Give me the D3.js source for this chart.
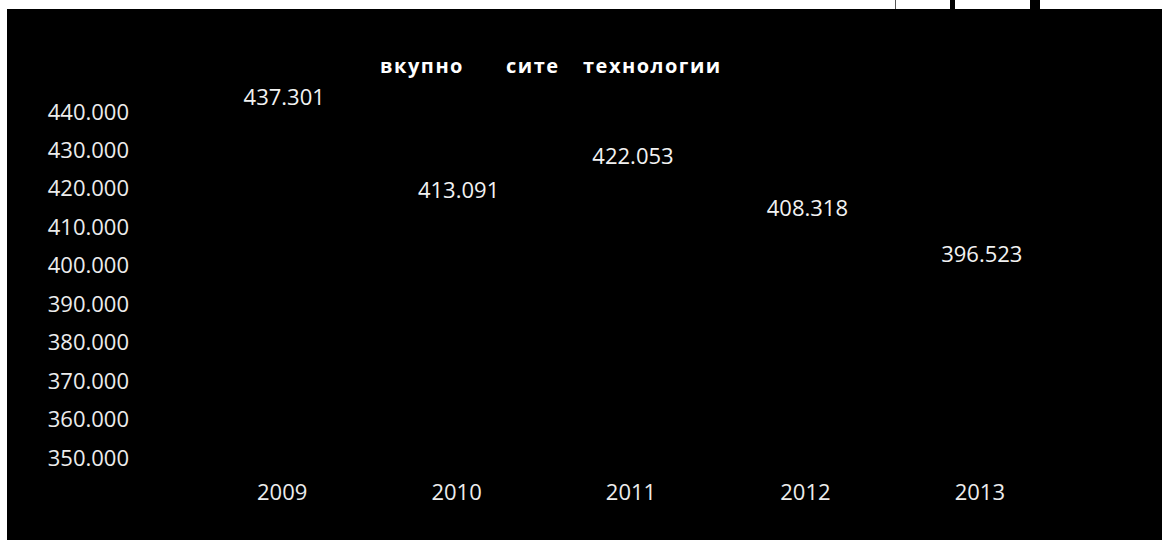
<!DOCTYPE html>
<html>
<head>
<meta charset="utf-8">
<script src="https://cdn.jsdelivr.net/npm/d3@7"></script>
<style>
  html, body { margin: 0; padding: 0; background: #fff; }
  svg { display: block; }
</style>
</head>
<body>
<svg id="chart" width="1162" height="540"></svg>
<script>
// Data: total of all technologies per year
const years = ["2009", "2010", "2011", "2012", "2013"];
const totals = [437301, 413091, 422053, 408318, 396523];
const yTicks = [350000, 360000, 370000, 380000, 390000, 400000, 410000, 420000, 430000, 440000];
const titleWords = ["вкупно", "сите", "технологии"];

const svg = d3.select("#chart");
const W = 1162, H = 540;
const font = "'Open Sans', 'Liberation Sans', sans-serif";

// Number format with "." as thousands separator
const fmt = d3.formatLocale({ decimal: ",", thousands: ".", grouping: [3], currency: ["", ""] }).format(",");

// Page frame: white margins, black chart area, small header boxes
svg.append("rect").attr("x", 0).attr("y", 0).attr("width", W).attr("height", H).attr("fill", "#fff");
svg.append("rect").attr("x", 7).attr("y", 9).attr("width", W - 7).attr("height", H - 9).attr("fill", "#000");
svg.append("line").attr("x1", 895.5).attr("x2", 895.5).attr("y1", 0).attr("y2", 9).attr("stroke", "#555").attr("stroke-width", 1);
svg.append("rect").attr("x", 950).attr("y", 0).attr("width", 5).attr("height", 9).attr("fill", "#000");
svg.append("rect").attr("x", 1030).attr("y", 0).attr("width", 10).attr("height", 9).attr("fill", "#000");

// Scales
const x = d3.scaleBand().domain(years).range([195, 1067]).paddingInner(0.4).paddingOuter(0.2);
const y = d3.scaleLinear().domain([350000, 440000]).range([458, 112]);

// Bars (same tone as the background)
svg.append("g").selectAll("rect")
  .data(totals)
  .join("rect")
  .attr("x", (d, i) => x(years[i]))
  .attr("width", x.bandwidth())
  .attr("y", d => y(d))
  .attr("height", d => y(350000) - y(d))
  .attr("fill", "#000");

// Y axis labels
const yAxis = d3.axisLeft(y).tickValues(yTicks).tickFormat(fmt).tickSize(0).tickPadding(0);
const gy = svg.append("g").attr("transform", "translate(129,0)").call(yAxis);
gy.select(".domain").remove();
gy.selectAll("text")
  .attr("font-family", font).attr("font-size", 22).attr("fill", "#ececec");

// X axis labels
const xAxis = d3.axisBottom(x).tickSize(0).tickPadding(0);
const gx = svg.append("g").attr("transform", "translate(0,484)").call(xAxis);
gx.select(".domain").remove();
gx.selectAll("text")
  .attr("font-family", font).attr("font-size", 22).attr("fill", "#ececec");

// Value labels above bars
svg.append("g").selectAll("text")
  .data(totals)
  .join("text")
  .attr("x", (d, i) => x(years[i]) + x.bandwidth() / 2 + 2)
  .attr("y", d => y(d) - 25)
  .attr("dy", "0.35em")
  .attr("text-anchor", "middle")
  .attr("font-family", font).attr("font-size", 22).attr("fill", "#f2f2f2")
  .text(d => fmt(d));

// Title
const titleX = [380, 506, 583];
const title = svg.append("text")
  .attr("y", 66).attr("dy", "0.35em")
  .attr("font-family", font).attr("font-size", 20).attr("font-weight", "bold")
  .attr("letter-spacing", 1.5).attr("fill", "#fff");
title.selectAll("tspan")
  .data(titleWords)
  .join("tspan")
  .attr("x", (d, i) => titleX[i])
  .text(d => d);
</script>
</body>
</html>
